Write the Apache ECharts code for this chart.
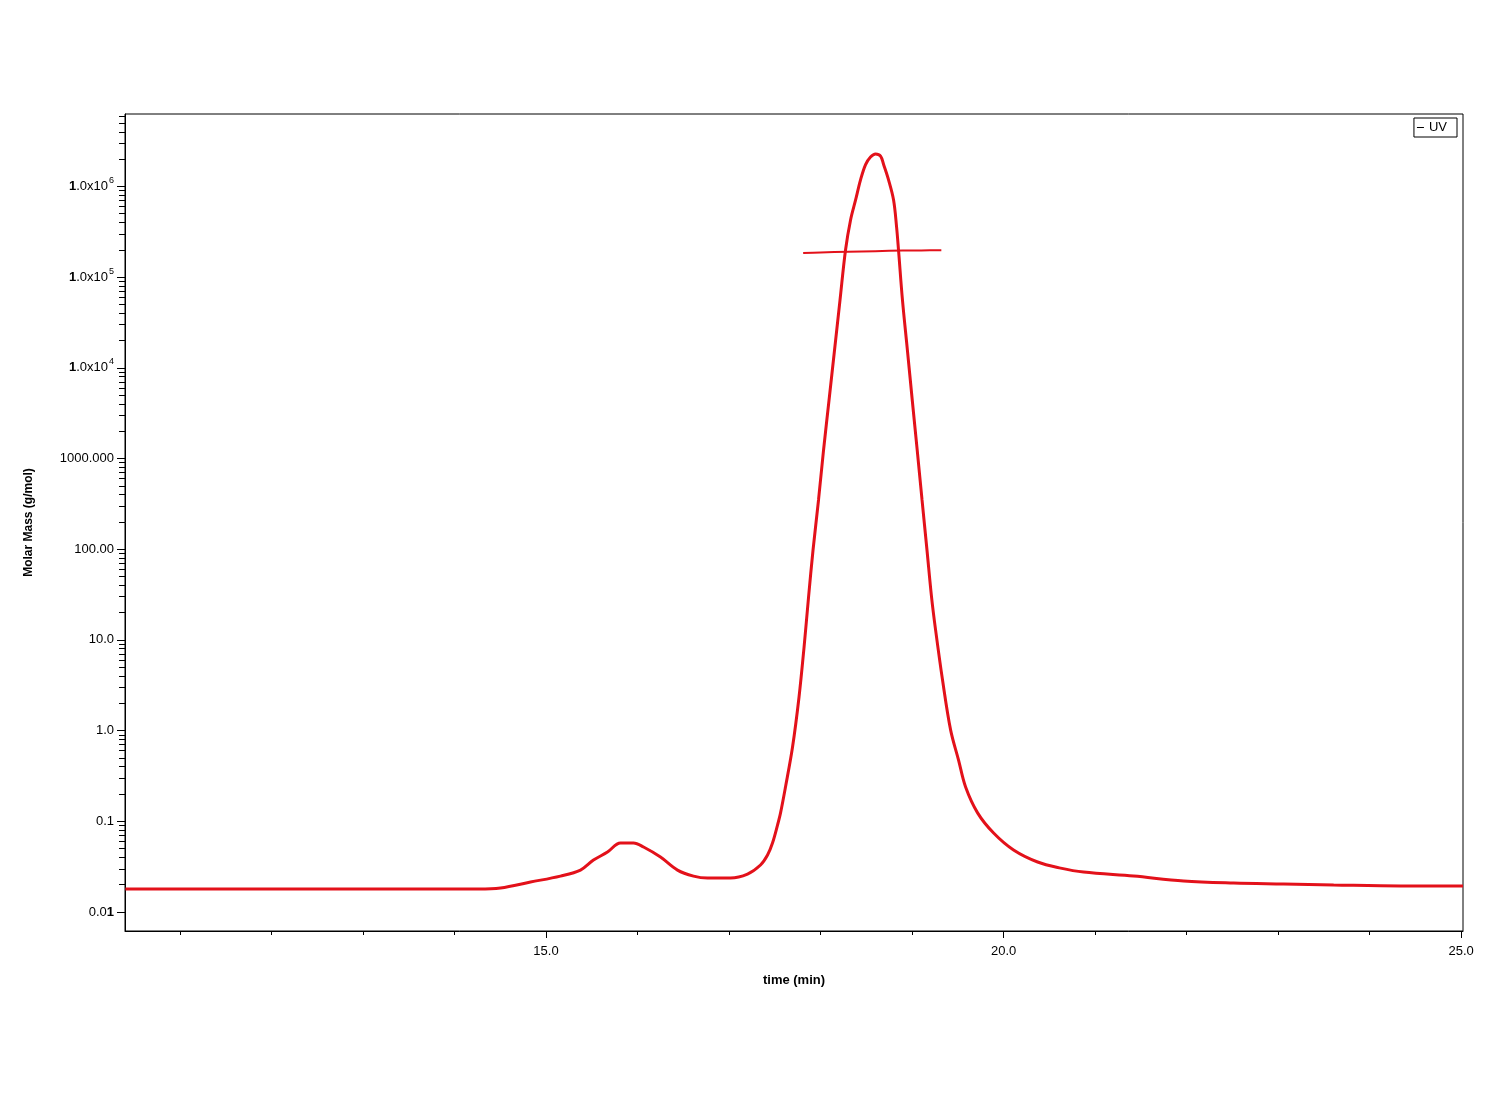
<!DOCTYPE html>
<html>
<head>
<meta charset="utf-8">
<script src="https://cdn.jsdelivr.net/npm/echarts@6/dist/echarts.min.js"></script>
<style>
html,body{margin:0;padding:0;background:#fff;}
#chart{width:1500px;height:1100px;}
</style>
</head>
<body>
<div id="chart"></div>
<script>
// UV trace (time in min, plotted on Molar Mass log axis)
const uvTime = [10.404, 14.262, 14.503, 14.831, 15.158, 15.377, 15.519, 15.672, 15.814, 15.956,
  16.066, 16.251, 16.437, 16.612, 16.765, 17.016, 17.202, 17.344, 17.421, 17.475,
  17.530, 17.563, 17.617, 17.694, 17.765, 17.820, 17.869, 17.918, 17.978, 18.033,
  18.093, 18.153, 18.213, 18.273, 18.328, 18.383, 18.437, 18.492, 18.546, 18.601,
  18.656, 18.689, 18.743, 18.798, 18.831, 18.852, 18.895, 18.949, 19.002, 19.056,
  19.109, 19.163, 19.213, 19.257, 19.333, 19.421, 19.508, 19.585, 19.716, 19.891,
  20.109, 20.372, 20.623, 20.874, 21.421, 21.967, 22.514, 23.060, 23.607, 24.339, 25.020];
const uvValue = [0.0179, 0.0179, 0.0184, 0.0214, 0.0249, 0.0290, 0.0374, 0.0459, 0.0577, 0.0577,
  0.0521, 0.0404, 0.0290, 0.0249, 0.0237, 0.0237, 0.0262, 0.0330, 0.0425, 0.0577,
  0.0910, 0.124, 0.239, 0.659, 2.35, 8.35, 29.7, 98, 349, 1242,
  4416, 15700, 56000, 199000, 426000, 708000, 1180000, 1740000, 2110000, 2280000,
  2160000, 1740000, 1180000, 708000, 356000, 199000, 56000, 15700, 4416, 1242,
  349, 98, 29.7, 12.9, 3.61, 1.02, 0.474, 0.239, 0.124, 0.0743,
  0.0483, 0.0356, 0.0305, 0.0276, 0.0249, 0.0220, 0.0209, 0.0204, 0.0199, 0.0194, 0.0194];

// Molar mass line across the main peak
const mmTime = [17.81, 18.00, 18.30, 18.60, 18.90, 19.10, 19.32];
const mmValue = [184000, 187000, 190000, 193000, 196000, 197000, 198000];

// Axis tick values
const xMajor = [15, 20, 25];
const xMinor = [11, 12, 13, 14, 16, 17, 18, 19, 21, 22, 23, 24];
const yMajor = [0.01, 0.1, 1, 10, 100, 1000, 10000, 100000, 1000000];
const yMinorMult = [2, 3, 4, 5, 6, 7, 8, 9];

const yMinor = [];
yMajor.forEach(d => yMinorMult.forEach(m => yMinor.push(+(d * m).toPrecision(3))));

const FONT = "Arial, 'Liberation Sans', sans-serif";
const X_MIN = 10.4, X_MAX = 25.02;
const Y_MIN = 0.00618, Y_MAX = 6280000;

function yLabel(v) {
  const e = Math.round(Math.log10(v));
  if (e >= 4) return '{b|1}.0x10{sup|' + e + '}';
  if (e === 3) return '1000.000';
  if (e === 2) return '100.00';
  if (e === 1) return '10.0';
  if (e === 0) return '1.0';
  if (e === -1) return '0.1';
  return '0.0{b|1}';
}

const chart = echarts.init(document.getElementById('chart'), null, {renderer: 'canvas'});
chart.setOption({
  backgroundColor: '#fff',
  animation: false,
  textStyle: {fontFamily: FONT},
  legend: {
    data: [{name: 'UV', icon: 'rect', itemStyle: {color: '#000'}}],
    right: 43, top: 118,
    itemWidth: 7, itemHeight: 1, itemGap: 4,
    padding: [3, 10, 3, 3],
    borderColor: '#000', borderWidth: 1,
    textStyle: {fontFamily: FONT, fontSize: 13, color: '#000'}
  },
  grid: {
    left: 125, top: 114, right: 37, bottom: 169,
    show: true, borderColor: '#000', borderWidth: 1, backgroundColor: 'transparent'
  },
  xAxis: [{
    type: 'value', min: X_MIN, max: X_MAX,
    name: 'time (min)', nameLocation: 'middle', nameGap: 43,
    nameTextStyle: {fontFamily: FONT, fontSize: 13, fontWeight: 'bold', color: '#000'},
    axisLine: {show: true, lineStyle: {color: '#000', width: 1}},
    axisTick: {show: true, length: 7, customValues: xMajor, lineStyle: {color: '#000'}},
    axisLabel: {customValues: xMajor, margin: 14, fontSize: 13, color: '#000', fontFamily: FONT,
      formatter: v => v.toFixed(1)},
    splitLine: {show: false}
  }, {
    type: 'value', min: X_MIN, max: X_MAX, position: 'bottom',
    axisLine: {show: false},
    axisTick: {show: true, length: 4, customValues: xMinor, lineStyle: {color: '#000'}},
    axisLabel: {show: false},
    splitLine: {show: false}
  }],
  yAxis: [{
    type: 'log', logBase: 10, min: Y_MIN, max: Y_MAX,
    name: 'Molar Mass (g/mol)', nameLocation: 'middle', nameGap: 90,
    nameTextStyle: {fontFamily: FONT, fontSize: 12, fontWeight: 'bold', color: '#000'},
    axisLine: {show: true, lineStyle: {color: '#000', width: 1}},
    axisTick: {show: true, length: 8, customValues: yMajor, lineStyle: {color: '#000'}},
    axisLabel: {
      customValues: yMajor, margin: 11, fontSize: 13, color: '#000', fontFamily: FONT,
      formatter: yLabel,
      rich: {
        b: {fontSize: 13, fontWeight: 'bold', color: '#000', fontFamily: FONT},
        sup: {fontSize: 9, color: '#000', fontFamily: FONT, padding: [0, 0, 12, 1]}
      }
    },
    splitLine: {show: false}
  }, {
    type: 'log', logBase: 10, min: Y_MIN, max: Y_MAX, position: 'left',
    axisLine: {show: false},
    axisTick: {show: true, length: 6, customValues: yMinor, lineStyle: {color: '#000'}},
    axisLabel: {show: false},
    splitLine: {show: false}
  }],
  series: [{
    name: 'UV', type: 'line', xAxisIndex: 0, yAxisIndex: 0,
    data: uvTime.map((t, i) => [t, uvValue[i]]),
    showSymbol: false, smooth: 0.35,
    lineStyle: {color: '#e3111a', width: 3},
    itemStyle: {color: '#e3111a'}
  }, {
    name: 'Molar Mass', type: 'line', xAxisIndex: 0, yAxisIndex: 0,
    data: mmTime.map((t, i) => [t, mmValue[i]]),
    showSymbol: false, smooth: 0.3,
    lineStyle: {color: '#e3111a', width: 2},
    itemStyle: {color: '#e3111a'}
  }]
});
</script>
</body>
</html>
